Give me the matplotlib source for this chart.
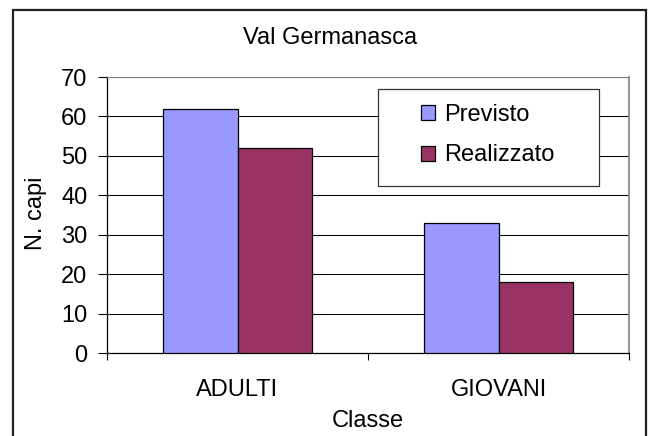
import numpy as np
import matplotlib
matplotlib.use("Agg")
import matplotlib.pyplot as plt
from matplotlib.patches import Rectangle, Patch

plt.rcParams['font.family'] = ['Liberation Sans', 'DejaVu Sans']

# data
categories = ['ADULTI', 'GIOVANI']
previsto = [62, 33]
realizzato = [52, 18]
series_names = ['Previsto', 'Realizzato']
yticks = [0, 10, 20, 30, 40, 50, 60, 70]

W, H = 653, 436
fs = 17
col_prev = '#9999FF'
col_real = '#993366'

fig = plt.figure(figsize=(W / 100, H / 100), dpi=100)
fig.patch.set_facecolor('white')

# outer chart border (bottom runs past the image)
fig.add_artist(Rectangle((13 / W, -0.05), (646 - 13) / W, (436 - 10) / H + 0.05,
                         transform=fig.transFigure, fill=False,
                         edgecolor='#222222', lw=1.6, zorder=1))

ax = fig.add_axes([107 / W, (H - 353) / H, (629 - 107) / W, (353 - 77) / H])

x = np.arange(len(categories))
bw = 1 / 3.5  # excel gap width 150
ax.bar(x - bw / 2, previsto, bw, color=col_prev, edgecolor='black', lw=0.9, zorder=3)
ax.bar(x + bw / 2, realizzato, bw, color=col_real, edgecolor='black', lw=0.9, zorder=3)

ax.set_xlim(-0.5, len(categories) - 0.5)
ax.set_ylim(0, 70)
ax.set_yticks(yticks)
ax.yaxis.grid(True, color='black', lw=0.75)
ax.set_axisbelow(True)

ax.set_xticks(x)
ax.set_xticklabels(categories, fontsize=fs)
ax.set_xticks(np.arange(-0.5, len(categories)), minor=True)
ax.tick_params(axis='x', which='major', length=0, pad=19)
ax.tick_params(axis='x', which='minor', length=5, width=0.8, direction='out')
ax.tick_params(axis='y', length=6.5, width=0.8, direction='out', pad=7.5, labelsize=fs)

for s in ['left', 'bottom']:
    ax.spines[s].set_color('black')
    ax.spines[s].set_linewidth(0.9)
ax.spines['right'].set_color('#808080')
ax.spines['right'].set_linewidth(1.2)
ax.spines['top'].set_color('#808080')
ax.spines['top'].set_linewidth(0.8)

fig.text(330 / W, 1 - 38 / H, 'Val Germanasca', ha='center', va='center', fontsize=fs)
fig.text(36 / W, 1 - 213 / H, 'N. capi', ha='center', va='center', rotation=90, fontsize=fs)
fig.text(368 / W, 1 - 421 / H, 'Classe', ha='center', va='center', fontsize=fs)

# legend box
fig.add_artist(Rectangle((378 / W, (H - 186) / H), (599 - 378) / W, (186 - 89) / H,
                         transform=fig.transFigure, facecolor='white',
                         edgecolor='#333333', lw=0.9, zorder=4))
handles = [Patch(facecolor=col_prev, edgecolor='black', lw=0.9),
           Patch(facecolor=col_real, edgecolor='black', lw=0.9)]
leg = fig.legend(handles, series_names, loc='center',
                 bbox_to_anchor=(488 / W, 1 - 135 / H), frameon=False,
                 fontsize=fs, handlelength=0.6, handleheight=0.6,
                 handletextpad=0.4, labelspacing=0.8)
leg.set_zorder(5)

fig.savefig('out.png', dpi=100)
